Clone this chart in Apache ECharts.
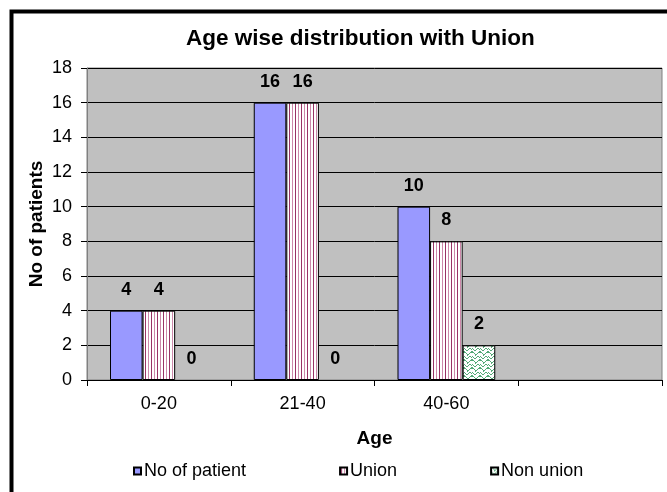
<!DOCTYPE html>
<html><head><meta charset="utf-8">
<script src="https://cdn.jsdelivr.net/npm/echarts@6/dist/echarts.min.js"></script>
<style>html,body{margin:0;padding:0;background:#fff}#c{width:667px;height:492px}</style>
</head><body><div id="c"></div>
<script>
const categories = ['0-20', '21-40', '40-60', ''];
const noOfPatient = [4, 16, 10, null];
const unionVals = [4, 16, 8, null];
const nonUnionVals = [0, 0, 2, null];
const yTicks = [0, 2, 4, 6, 8, 10, 12, 14, 16, 18];

function stripePattern() {
  const c = document.createElement('canvas');
  c.width = 6; c.height = 4;
  const g = c.getContext('2d');
  g.fillStyle = '#ffffff'; g.fillRect(0, 0, 6, 4);
  g.fillStyle = '#993366'; g.fillRect(1, 0, 1, 4);
  g.fillStyle = '#cc88aa'; g.fillRect(4, 0, 1, 4);
  return c;
}
function weavePattern() {
  const c = document.createElement('canvas');
  c.width = 8; c.height = 8;
  const g = c.getContext('2d');
  g.fillStyle = '#ffffff'; g.fillRect(0, 0, 8, 8);
  g.fillStyle = '#55aa77';
  const pts = [[0,0],[1,0],[2,1],[3,2],[4,2],[5,1],[6,0],[7,0],[0,4],[1,5],[2,6],[3,6],[4,5],[5,4],[6,4],[7,5],[3,3],[7,7],[0,7]];
  pts.forEach(p => g.fillRect(p[0], p[1], 1, 1));
  return c;
}
// hide the border of zero-height bars (labels stay)
function withZeroHidden(arr) {
  return arr.map(v => v === 0 ? {value: v, itemStyle: {borderWidth: 0, opacity: 0}} : v);
}

const chart = echarts.init(document.getElementById('c'), null, {renderer: 'canvas'});
const labelCfg = {show: true, position: 'top', distance: 12, color: '#000', fontWeight: 'bold', fontSize: 18, fontFamily: 'Liberation Sans', opacity: 1};
chart.setOption({
  backgroundColor: '#ffffff',
  animation: false,
  title: {
    text: 'Age wise distribution with Union', left: 181, top: 22,
    textStyle: {fontFamily: 'Liberation Sans', fontWeight: 'bold', fontSize: 22.5, color: '#000'}
  },
  legend: {
    left: 128, top: 457, itemWidth: 7, itemHeight: 7, itemGap: 93, icon: 'rect',
    textStyle: {fontFamily: 'Liberation Sans', fontSize: 18, color: '#000', padding: [0, 0, 0, -2]},
    data: ['No of patient', 'Union', 'Non union']
  },
  grid: {left: 87, top: 68, right: 5, bottom: 112, show: true, backgroundColor: '#c0c0c0', borderColor: '#808080', borderWidth: 1},
  xAxis: {
    type: 'category', data: categories,
    name: 'Age', nameLocation: 'middle', nameGap: 49,
    nameTextStyle: {fontFamily: 'Liberation Sans', fontWeight: 'bold', fontSize: 19, color: '#000'},
    axisLine: {lineStyle: {color: '#000', width: 1}},
    axisTick: {show: true, length: 6, lineStyle: {color: '#000'}},
    axisLabel: {fontFamily: 'Liberation Sans', fontSize: 18, color: '#000', margin: 15}
  },
  yAxis: {
    type: 'value', min: yTicks[0], max: yTicks[yTicks.length - 1], interval: 2,
    name: 'No of patients', nameLocation: 'middle', nameGap: 41, nameMoveOverlap: false,
    nameTextStyle: {fontFamily: 'Liberation Sans', fontWeight: 'bold', fontSize: 19, color: '#000'},
    axisLine: {show: true, lineStyle: {color: '#808080', width: 1}},
    axisTick: {show: true, length: 6, lineStyle: {color: '#000'}},
    axisLabel: {fontFamily: 'Liberation Sans', fontSize: 18, color: '#000', margin: 15},
    splitLine: {show: true, lineStyle: {color: '#000', width: 1}}
  },
  series: [
    {name: 'No of patient', type: 'bar', data: withZeroHidden(noOfPatient), barGap: '0%', barCategoryGap: '32%',
     itemStyle: {color: '#9999ff', borderColor: '#000', borderWidth: 1}, label: labelCfg},
    {name: 'Union', type: 'bar', data: withZeroHidden(unionVals), barGap: '0%', barCategoryGap: '32%',
     itemStyle: {color: {image: stripePattern(), repeat: 'repeat'}, borderColor: '#000', borderWidth: 1}, label: labelCfg},
    {name: 'Non union', type: 'bar', data: withZeroHidden(nonUnionVals), barGap: '0%', barCategoryGap: '32%',
     itemStyle: {color: {image: weavePattern(), repeat: 'repeat'}, borderColor: '#000', borderWidth: 1}, label: labelCfg}
  ],
  graphic: [{
    type: 'rect', left: 9, top: 9, silent: true, z: 100,
    shape: {width: 720, height: 540},
    style: {fill: null, stroke: '#000', lineWidth: 4}
  }]
});
</script></body></html>
